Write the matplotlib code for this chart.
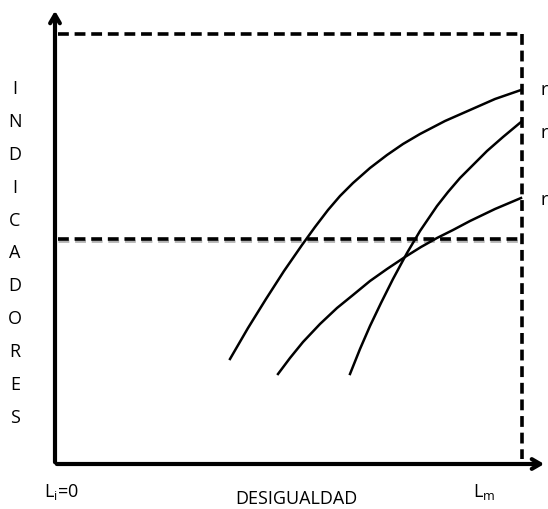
import matplotlib
matplotlib.use("Agg")
import matplotlib.pyplot as plt

# Curves (pixel-like units, y grows downward)
curve_top_x = [230, 248, 266, 284, 302, 315, 328, 340, 353, 370, 387, 403, 420, 445, 470, 495, 521]
curve_top_y = [360, 329, 300, 272, 246, 228, 211, 197, 184, 169, 156, 145, 135, 122, 111, 100, 91]
curve_mid_x = [350, 360, 370, 381, 393, 407, 420, 437, 448, 460, 473, 487, 503, 521]
curve_mid_y = [375, 350, 327, 304, 280, 254, 232, 207, 193, 179, 166, 152, 138, 123]
curve_low_x = [278, 290, 303, 320, 337, 353, 370, 387, 405, 421, 437, 453, 470, 495, 521]
curve_low_y = [375, 359, 343, 325, 309, 296, 282, 270, 258, 248, 239, 231, 222, 210, 199]

y_letters = list("INDICADORES")
right_labels = ["r", "r", "r"]

fig = plt.figure(figsize=(5.48, 5.10), dpi=100)
ax = fig.add_axes([0, 0, 1, 1])
ax.set_xlim(0, 548)
ax.set_ylim(510, 0)
ax.axis("off")

# axes with arrows
ax.annotate("", xy=(55, 9), xytext=(55, 466),
            arrowprops=dict(arrowstyle="->,head_width=0.35,head_length=0.6", lw=3, color="black"))
ax.annotate("", xy=(547, 465), xytext=(54, 465),
            arrowprops=dict(arrowstyle="->,head_width=0.35,head_length=0.6", lw=3, color="black"))

# dashed frame lines (middle one has a grey shadow)
dash = dict(color="black", lw=2.6, ls=(0, (3, 1.6)))
ax.plot([58, 522], [242, 242], color="#b4b4b4", lw=2.0, ls=(0, (3.9, 2.08)))
ax.plot([58, 522], [35, 35], **dash)
ax.plot([522, 522], [35, 460], **dash)
ax.plot([58, 522], [240, 240], **dash)

# curves
for xs, ys in [(curve_top_x, curve_top_y), (curve_mid_x, curve_mid_y), (curve_low_x, curve_low_y)]:
    ax.plot(xs, ys, color="black", lw=1.8, solid_joinstyle="round")

font = "Open Sans"
fs = 13
for i, ch in enumerate(y_letters):
    ax.text(15, 89 + i * 32.9, ch, ha="center", va="center", fontsize=fs, family=font)

for lab, yy in zip(right_labels, [90, 133, 200]):
    ax.text(540, yy, lab, ha="left", va="center", fontsize=fs, family=font)

ax.text(61, 492, r"L$_\mathregular{i}$=0", ha="center", va="center", fontsize=fs, family=font)
ax.text(296, 499, "DESIGUALDAD", ha="center", va="center", fontsize=fs, family=font)
ax.text(484, 492, r"L$_\mathregular{m}$", ha="center", va="center", fontsize=fs, family=font)

fig.savefig("out.png", dpi=100)
